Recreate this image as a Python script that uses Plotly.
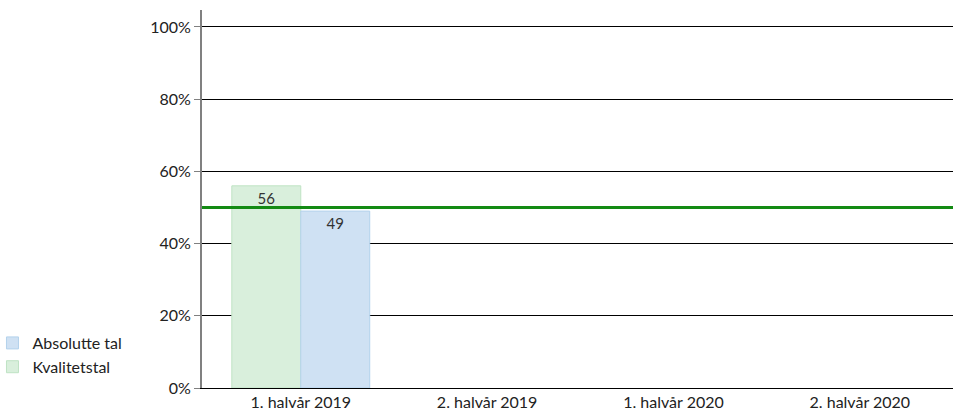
import plotly.graph_objects as go

# Half-year periods on the category axis
categories = ["1. halvår 2019", "2. halvår 2019", "1. halvår 2020", "2. halvår 2020"]

# Series values in percent (only the first period has data)
kvalitetstal = [56, None, None, None]
absolutte_tal = [49, None, None, None]

# Target level drawn as a horizontal line
target = 50

# Y-axis ticks
y_ticks = [0, 20, 40, 60, 80, 100]
y_tick_labels = [f"{v}%" for v in y_ticks]

FONT = "Lato"
FS = 16

fig = go.Figure()

fig.add_trace(go.Bar(
    name="Kvalitetstal",
    x=categories,
    y=kvalitetstal,
    marker=dict(color="#d9efdc", line=dict(color="#bfe3c4", width=1)),
    text=[str(v) if v is not None else "" for v in kvalitetstal],
    textposition="inside",
    insidetextanchor="end",
    textfont=dict(family=FONT, size=15, color="#333333"),
    textangle=0,
))

fig.add_trace(go.Bar(
    name="Absolutte tal",
    x=categories,
    y=absolutte_tal,
    marker=dict(color="#cfe1f3", line=dict(color="#b3d2ec", width=1)),
    text=[str(v) if v is not None else "" for v in absolutte_tal],
    textposition="inside",
    insidetextanchor="end",
    textfont=dict(family=FONT, size=15, color="#333333"),
    textangle=0,
))

fig.add_shape(
    type="line", xref="paper", x0=0, x1=1, yref="y", y0=target, y1=target,
    line=dict(color="#138a13", width=3), layer="above",
)

fig.update_layout(
    width=953, height=411,
    margin=dict(l=202, r=0, t=10, b=23, autoexpand=False),
    paper_bgcolor="white", plot_bgcolor="white",
    barmode="group", bargap=0.26, bargroupgap=0,
    font=dict(family=FONT, size=FS, color="#222222"),
    showlegend=True,
    legend=dict(
        x=-0.279, xanchor="left", y=0.164, yanchor="top",
        traceorder="reversed",
        font=dict(family=FONT, size=FS, color="#222222"),
        bgcolor="rgba(0,0,0,0)", itemwidth=30, tracegroupgap=0,
    ),
    uniformtext=dict(mode="show", minsize=10),
)

fig.update_xaxes(
    type="category", range=[-0.53, 3.5], showgrid=False,
    showline=True, linecolor="#000000", linewidth=1,
    ticks="", tickfont=dict(family=FONT, size=FS, color="#222222"),
)

fig.update_yaxes(
    range=[0, 104.7], tickvals=y_ticks, ticktext=y_tick_labels,
    showgrid=True, gridcolor="#000000", gridwidth=1,
    showline=True, linecolor="#808080", linewidth=2,
    ticks="outside", ticklen=6, tickcolor="#808080",
    zeroline=False,
    tickfont=dict(family=FONT, size=FS, color="#222222"),
)

fig.write_html("out.html")
